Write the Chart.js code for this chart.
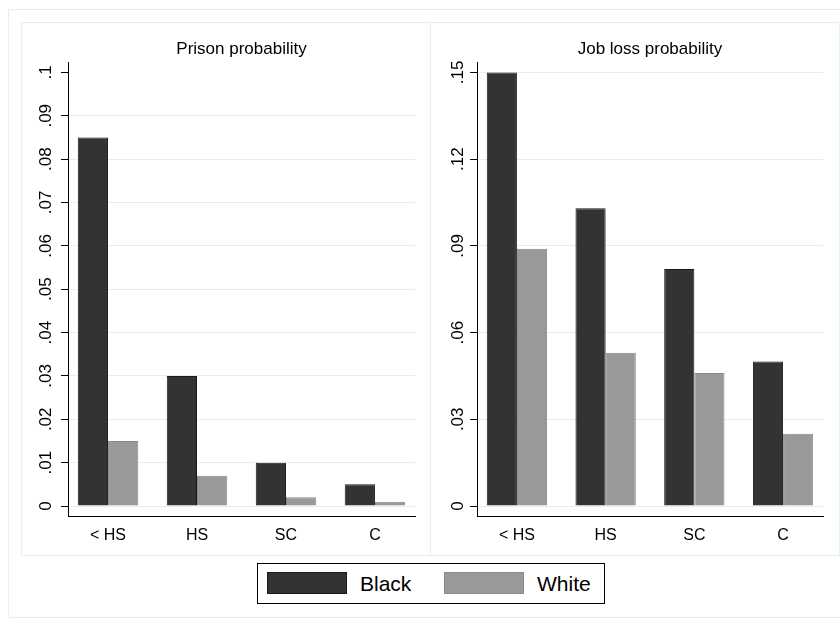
<!DOCTYPE html>
<html>
<head>
<meta charset="utf-8">
<title>Prison and job loss probability</title>
<script src="https://cdn.jsdelivr.net/npm/chart.js@4.4.1/dist/chart.umd.min.js"></script>
<style>
  body { margin: 0; background: #fff; font-family: 'Liberation Sans', Arial, sans-serif; }
  #wrap { position: relative; width: 840px; height: 618px; overflow: hidden; background: #fff; }
  .frame { position: absolute; border: 1px solid #e6eef0; box-sizing: border-box; }
  .box { position: absolute; top: 22px; width: 409px; height: 533px; }
  #legend { position: absolute; left: 257px; top: 563px; width: 348px; height: 41px;
            border: 1px solid #000; box-sizing: border-box; }
  #legend .sw { position: absolute; top: 8px; width: 80px; height: 22px; box-sizing: border-box; }
  #legend .txt { position: absolute; top: 0; line-height: 39px; font-size: 21px; color: #000; }
</style>
</head>
<body>
<div id="wrap">
  <div class="frame" style="left:8px;top:9px;width:840px;height:609px;"></div>
  <div class="frame" style="left:21px;top:22px;width:410px;height:534px;"></div>
  <div class="frame" style="left:430px;top:22px;width:410px;height:534px;"></div>
  <div class="box" style="left:21px;"><canvas id="prisonChart"></canvas></div>
  <div class="box" style="left:430px;"><canvas id="jobChart"></canvas></div>
  <div id="legend"></div>
</div>
<script>
var categories = ['< HS', 'HS', 'SC', 'C'];
var seriesNames = ['Black', 'White'];

var prisonBlack = [0.085, 0.030, 0.010, 0.005];
var prisonWhite = [0.015, 0.007, 0.002, 0.001];
var jobBlack = [0.150, 0.103, 0.082, 0.050];
var jobWhite = [0.089, 0.053, 0.046, 0.025];

var prisonTicks = [0, 0.01, 0.02, 0.03, 0.04, 0.05, 0.06, 0.07, 0.08, 0.09, 0.1];
var jobTicks = [0, 0.03, 0.06, 0.09, 0.12, 0.15];

var fills = ['#333333', '#999999'];
var edges = ['#1a1a1a', '#8a8a8a'];
var gridColor = '#e6eef0';

Chart.defaults.font.family = "'Liberation Sans', Arial, sans-serif";
Chart.defaults.color = '#000';

function fmtTick(v) {
    if (v === 0) return '0';
    return v.toFixed(2).replace(/0+$/, '').replace(/^0/, '');
}

function toXY(vals) {
    return vals.map(function(v, i) { return { x: i, y: v }; });
}

function makePanel(id, title, black, white, ticks, opt) {
    // Stata leaves ~10px between the tick range and the plot edges
    var pad = (ticks[ticks.length - 1] - ticks[0]) * 10 / 434;
    return new Chart(document.getElementById(id), {
        type: 'bar',
        data: {
            datasets: [black, white].map(function(vals, k) {
                return {
                    label: seriesNames[k],
                    data: toXY(vals),
                    backgroundColor: fills[k],
                    borderColor: edges[k],
                    borderWidth: 1,
                    categoryPercentage: 0.68,
                    barPercentage: 1
                };
            })
        },
        options: {
            responsive: true,
            maintainAspectRatio: false,
            animation: false,
            events: [],
            layout: { padding: { top: 0, right: opt.right, bottom: 9, left: 0 } },
            scales: {
                x: {
                    type: 'linear',
                    min: -0.45,
                    max: categories.length - 1 + 0.45,
                    offset: false,
                    bounds: 'data',
                    afterBuildTicks: function(s) {
                        s.ticks = categories.map(function(c, i) { return { value: i }; });
                    },
                    afterFit: function(s) { s.height = 30; },
                    ticks: {
                        autoSkip: false, maxRotation: 0, padding: 2,
                        font: { size: 16 },
                        callback: function(v) { return categories[v]; }
                    },
                    grid: { display: false },
                    border: { display: true, color: '#000', width: 1 }
                },
                y: {
                    type: 'linear',
                    min: ticks[0] - pad,
                    max: ticks[ticks.length - 1] + pad,
                    bounds: 'data',
                    afterBuildTicks: function(s) {
                        s.ticks = ticks.map(function(v) { return { value: v }; });
                    },
                    afterFit: function(s) { s.width = 47; },
                    ticks: {
                        autoSkip: false, minRotation: 90, maxRotation: 90,
                        crossAlign: 'center', padding: opt.labelPad,
                        font: { size: 17 },
                        callback: fmtTick
                    },
                    grid: {
                        color: function(ctx) {
                            if (opt.skipTop && ctx.tick && ctx.tick.value === ticks[ticks.length - 1]) return 'rgba(0,0,0,0)';
                            return gridColor;
                        },
                        tickColor: '#000',
                        tickLength: 7,
                        lineWidth: 1
                    },
                    border: { display: true, color: '#000', width: 1 }
                }
            },
            plugins: {
                legend: { display: false },
                tooltip: { enabled: false },
                title: {
                    display: true,
                    text: title,
                    fullSize: false,
                    color: '#000',
                    font: { size: 17, weight: 'normal' },
                    padding: { top: 17, bottom: 3 }
                }
            }
        }
    });
}

makePanel('prisonChart', 'Prison probability', prisonBlack, prisonWhite, prisonTicks,
    { right: 15, labelPad: 3, skipTop: true });
makePanel('jobChart', 'Job loss probability', jobBlack, jobWhite, jobTicks,
    { right: 16, labelPad: 0, skipTop: false });

// Legend below both panels
var legend = document.getElementById('legend');
var swLeft = [9, 186];
var txtLeft = [102, 279];
seriesNames.forEach(function(name, k) {
    var sw = document.createElement('span');
    sw.className = 'sw';
    sw.style.left = swLeft[k] + 'px';
    sw.style.background = fills[k];
    sw.style.border = '1px solid ' + edges[k];
    legend.appendChild(sw);
    var t = document.createElement('span');
    t.className = 'txt';
    t.style.left = txtLeft[k] + 'px';
    t.textContent = name;
    legend.appendChild(t);
});
</script>
</body>
</html>
